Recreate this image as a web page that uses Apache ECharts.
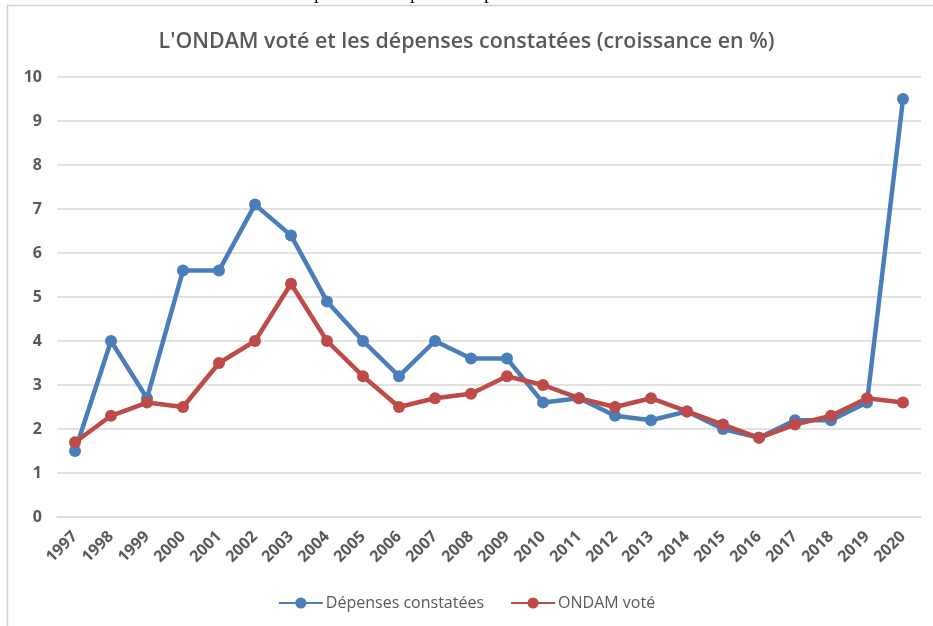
<!DOCTYPE html>
<html>
<head>
<meta charset="utf-8">
<script src="https://cdn.jsdelivr.net/npm/echarts@6/dist/echarts.min.js"></script>
<style>html,body{margin:0;padding:0;background:#fff;}#c{width:933px;height:626px;}</style>
</head>
<body>
<div id="c"></div>
<script>
const years = ['1997','1998','1999','2000','2001','2002','2003','2004','2005','2006','2007','2008','2009','2010','2011','2012','2013','2014','2015','2016','2017','2018','2019','2020'];
const depenses = [1.5,4.0,2.7,5.6,5.6,7.1,6.4,4.9,4.0,3.2,4.0,3.6,3.6,2.6,2.7,2.3,2.2,2.4,2.0,1.8,2.2,2.2,2.6,9.5];
const ondam = [1.7,2.3,2.6,2.5,3.5,4.0,5.3,4.0,3.2,2.5,2.7,2.8,3.2,3.0,2.7,2.5,2.7,2.4,2.1,1.8,2.1,2.3,2.7,2.6];
const yTicks = [0,1,2,3,4,5,6,7,8,9,10];

const chart = echarts.init(document.getElementById('c'), null, {renderer:'canvas'});
const gray = '#595959';
chart.setOption({
  animation:false,
  backgroundColor:'#fff',
  title:{
    text:"L'ONDAM voté et les dépenses constatées (croissance en %)",
    left:'center', top:26,
    textStyle:{fontFamily:'Open Sans', fontWeight:600, fontSize:21.4, color:gray}
  },
  graphic:[
    {type:'rect', shape:{x:7.5,y:5.5,width:1000,height:1000}, style:{fill:'none',stroke:'#d0d0d0',lineWidth:1.5}, silent:true},
    {type:'text', left:314, top:-17, style:{text:'p', font:'20px "Liberation Serif"', fill:'#000'}},
    {type:'text', left:410, top:-17, style:{text:'p', font:'20px "Liberation Serif"', fill:'#000'}},
    {type:'text', left:484, top:-17, style:{text:'p', font:'20px "Liberation Serif"', fill:'#000'}}
  ],
  legend:{
    top:590, left:'center', itemGap:26, itemWidth:44, itemHeight:14,
    textStyle:{fontFamily:'Open Sans', fontSize:16, color:gray, padding:[0,0,0,-2]},
    data:[{name:'Dépenses constatées'},{name:'ONDAM voté'}]
  },
  grid:{left:57, right:12, top:77, bottom:109},
  xAxis:{
    type:'category', data:years, boundaryGap:true,
    axisLine:{show:true, lineStyle:{color:'#d9d9d9', width:1.5}},
    axisTick:{show:false},
    axisLabel:{rotate:45, fontFamily:'Open Sans', fontWeight:'bold', fontSize:16, color:gray, margin:17, interval:0}
  },
  yAxis:{
    type:'value', min:0, max:10, interval:1,
    axisLine:{show:false}, axisTick:{show:false},
    splitLine:{lineStyle:{color:'#d9d9d9', width:1.5}},
    axisLabel:{fontFamily:'Open Sans', fontWeight:'bold', fontSize:16, color:gray, margin:15,
      formatter:function(v){return yTicks.indexOf(v)>=0?String(v):'';}}
  },
  series:[
    {name:'Dépenses constatées', type:'line', data:depenses, symbol:'circle', symbolSize:12,
      lineStyle:{color:'#4a7ebb', width:4.5}, itemStyle:{color:'#4a7ebb'}},
    {name:'ONDAM voté', type:'line', data:ondam, symbol:'circle', symbolSize:12,
      lineStyle:{color:'#be4b48', width:4.5}, itemStyle:{color:'#be4b48'}}
  ]
});
</script>
</body>
</html>
